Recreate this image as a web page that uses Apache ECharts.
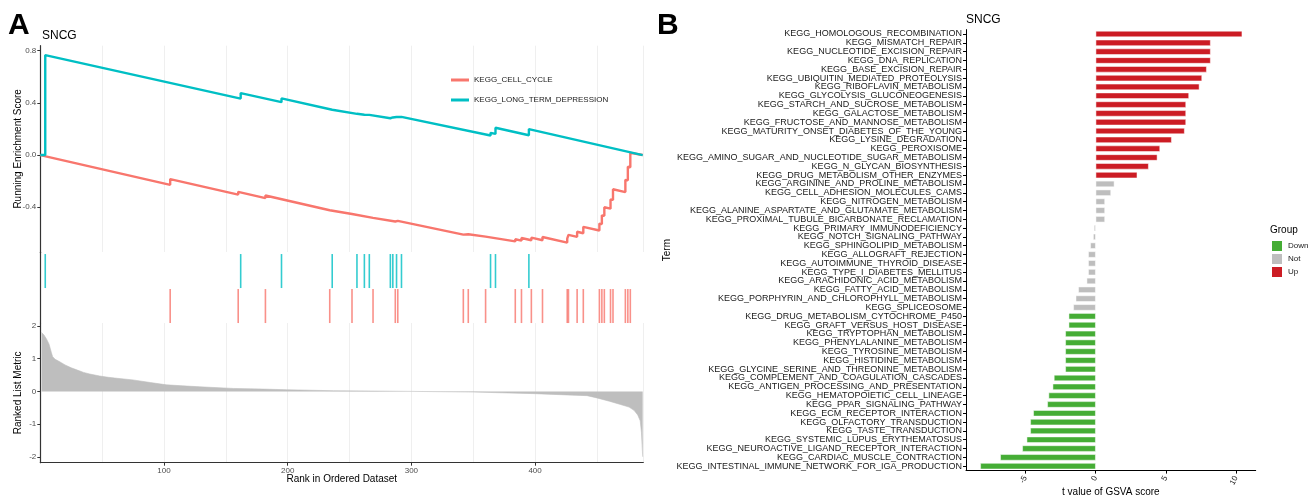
<!DOCTYPE html>
<html>
<head>
<meta charset="utf-8">
<script src="https://cdn.jsdelivr.net/npm/echarts@6/dist/echarts.min.js"></script>
<style>
  html, body { margin: 0; padding: 0; background: #fff; }
  #chart { width: 1310px; height: 500px; }
</style>
</head>
<body>
<div id="chart"></div>
<script>
// ---- panel A: GSEA data ----
const nGenes = 487
const rankTicks = [100, 200, 300, 400]
const esTicks = [-0.4, 0, 0.4, 0.8]
const metricTicks = [-2, -1, 0, 1, 2]

// KEGG_CELL_CYCLE hits, running score just before and just after each hit
const ccHits = [105, 160, 182, 234, 252, 269, 287, 289, 342, 346, 360, 384, 389, 397, 406, 426, 427, 434, 439, 452, 454, 456, 461, 463, 473, 475, 477]
const ccBefore = [-0.228, -0.303, -0.330, -0.423, -0.452, -0.481, -0.509, -0.504, -0.610, -0.607, -0.625, -0.662, -0.656, -0.653, -0.653, -0.671, -0.642, -0.627, -0.599, -0.578, -0.529, -0.466, -0.411, -0.344, -0.284, -0.194, -0.094]
const ccAfter = [-0.184, -0.282, -0.310, -0.413, -0.444, -0.470, -0.500, -0.495, -0.598, -0.595, -0.610, -0.645, -0.636, -0.633, -0.628, -0.640, -0.612, -0.588, -0.550, -0.525, -0.462, -0.400, -0.340, -0.262, -0.190, -0.090, 0.017]

// KEGG_LONG_TERM_DEPRESSION
const ltdHits = [4, 162, 195, 236, 256, 262, 266, 283, 285, 288, 292, 364, 368, 395]
const ltdBefore = [0.000, 0.433, 0.405, 0.347, 0.316, 0.309, 0.308, 0.282, 0.288, 0.292, 0.292, 0.150, 0.162, 0.152]
const ltdAfter = [0.766, 0.475, 0.434, 0.358, 0.322, 0.316, 0.318, 0.292, 0.298, 0.300, 0.302, 0.170, 0.209, 0.199]

// ranked list metric, sampled along the curve
const metricRank = [1, 3, 5, 7, 8, 9, 10, 12, 15, 20, 25, 30, 35, 40, 48, 55, 62, 75, 89, 102, 115, 129, 156, 180, 199, 237, 270, 300, 350, 400, 420, 442, 450, 460, 469, 476, 480, 483, 485, 486, 487]
const metricValue = [1.80, 1.72, 1.60, 1.45, 1.32, 1.18, 1.06, 0.98, 0.92, 0.81, 0.72, 0.65, 0.58, 0.53, 0.47, 0.43, 0.40, 0.35, 0.27, 0.20, 0.17, 0.14, 0.09, 0.07, 0.05, 0.02, 0.01, 0.0, -0.02, -0.07, -0.10, -0.13, -0.20, -0.30, -0.40, -0.48, -0.58, -0.72, -0.90, -1.25, -2.0]

// ---- panel B: GSVA t values ----
const terms = [
  'KEGG_HOMOLOGOUS_RECOMBINATION', 'KEGG_MISMATCH_REPAIR', 'KEGG_NUCLEOTIDE_EXCISION_REPAIR',
  'KEGG_DNA_REPLICATION', 'KEGG_BASE_EXCISION_REPAIR', 'KEGG_UBIQUITIN_MEDIATED_PROTEOLYSIS',
  'KEGG_RIBOFLAVIN_METABOLISM', 'KEGG_GLYCOLYSIS_GLUCONEOGENESIS', 'KEGG_STARCH_AND_SUCROSE_METABOLISM',
  'KEGG_GALACTOSE_METABOLISM', 'KEGG_FRUCTOSE_AND_MANNOSE_METABOLISM', 'KEGG_MATURITY_ONSET_DIABETES_OF_THE_YOUNG',
  'KEGG_LYSINE_DEGRADATION', 'KEGG_PEROXISOME', 'KEGG_AMINO_SUGAR_AND_NUCLEOTIDE_SUGAR_METABOLISM',
  'KEGG_N_GLYCAN_BIOSYNTHESIS', 'KEGG_DRUG_METABOLISM_OTHER_ENZYMES', 'KEGG_ARGININE_AND_PROLINE_METABOLISM',
  'KEGG_CELL_ADHESION_MOLECULES_CAMS', 'KEGG_NITROGEN_METABOLISM', 'KEGG_ALANINE_ASPARTATE_AND_GLUTAMATE_METABOLISM',
  'KEGG_PROXIMAL_TUBULE_BICARBONATE_RECLAMATION', 'KEGG_PRIMARY_IMMUNODEFICIENCY', 'KEGG_NOTCH_SIGNALING_PATHWAY',
  'KEGG_SPHINGOLIPID_METABOLISM', 'KEGG_ALLOGRAFT_REJECTION', 'KEGG_AUTOIMMUNE_THYROID_DISEASE',
  'KEGG_TYPE_I_DIABETES_MELLITUS', 'KEGG_ARACHIDONIC_ACID_METABOLISM', 'KEGG_FATTY_ACID_METABOLISM',
  'KEGG_PORPHYRIN_AND_CHLOROPHYLL_METABOLISM', 'KEGG_SPLICEOSOME', 'KEGG_DRUG_METABOLISM_CYTOCHROME_P450',
  'KEGG_GRAFT_VERSUS_HOST_DISEASE', 'KEGG_TRYPTOPHAN_METABOLISM', 'KEGG_PHENYLALANINE_METABOLISM',
  'KEGG_TYROSINE_METABOLISM', 'KEGG_HISTIDINE_METABOLISM', 'KEGG_GLYCINE_SERINE_AND_THREONINE_METABOLISM',
  'KEGG_COMPLEMENT_AND_COAGULATION_CASCADES', 'KEGG_ANTIGEN_PROCESSING_AND_PRESENTATION', 'KEGG_HEMATOPOIETIC_CELL_LINEAGE',
  'KEGG_PPAR_SIGNALING_PATHWAY', 'KEGG_ECM_RECEPTOR_INTERACTION', 'KEGG_OLFACTORY_TRANSDUCTION',
  'KEGG_TASTE_TRANSDUCTION', 'KEGG_SYSTEMIC_LUPUS_ERYTHEMATOSUS', 'KEGG_NEUROACTIVE_LIGAND_RECEPTOR_INTERACTION',
  'KEGG_CARDIAC_MUSCLE_CONTRACTION', 'KEGG_INTESTINAL_IMMUNE_NETWORK_FOR_IGA_PRODUCTION'
]
const tValues = [
  10.43, 8.18, 8.18, 8.18, 7.90, 7.57, 7.38, 6.64, 6.43, 6.43,
  6.43, 6.33, 5.41, 4.58, 4.39, 3.77, 2.96, 1.33, 1.09, 0.66,
  0.66, 0.66, -0.12, -0.18, -0.38, -0.53, -0.53, -0.53, -0.64, -1.24,
  -1.42, -1.59, -1.92, -1.92, -2.16, -2.16, -2.16, -2.16, -2.16, -2.97,
  -3.06, -3.35, -3.44, -4.44, -4.65, -4.65, -4.91, -5.22, -6.79, -8.21
]
const groups = [
  'Up', 'Up', 'Up', 'Up', 'Up', 'Up', 'Up', 'Up', 'Up', 'Up',
  'Up', 'Up', 'Up', 'Up', 'Up', 'Up', 'Up', 'Not', 'Not', 'Not',
  'Not', 'Not', 'Not', 'Not', 'Not', 'Not', 'Not', 'Not', 'Not', 'Not',
  'Not', 'Not', 'Down', 'Down', 'Down', 'Down', 'Down', 'Down', 'Down', 'Down',
  'Down', 'Down', 'Down', 'Down', 'Down', 'Down', 'Down', 'Down', 'Down', 'Down'
]
const groupNames = ['Down', 'Not', 'Up']
const tTicks = [-5, 0, 5, 10]

const groupColors = { Down: '#45ad35', Not: '#bebebe', Up: '#cc1c24' }
const FONT = 'Liberation Sans, Arial, sans-serif'

// running-score path: start at 0, vertical jump at each hit, back to 0 at the end
const esPath = (hits, before, after) => {
  const pts = [[0, 0]]
  hits.forEach((r, i) => {
    pts.push([r, before[i]])
    pts.push([r, after[i]])
  })
  pts.push([nGenes, 0])
  return pts
}

const chart = echarts.init(document.getElementById('chart'))

const hidden = { axisLine: { show: false }, axisTick: { show: false }, axisLabel: { show: false }, splitLine: { show: false } }
// extra top axes only used to draw the vertical grid lines every 50 ranks
const gridAxis = (gi) => ({
  gridIndex: gi, type: 'value', position: 'top', min: 0, max: 487.5, interval: 50,
  axisLine: { show: false }, axisTick: { show: false }, axisLabel: { show: false },
  splitLine: { show: true, lineStyle: { color: '#ebebeb', width: 0.8 } }
})
const axisText = { color: '#4d4d4d', fontSize: 8, fontFamily: FONT }
const nameText = { color: '#000', fontSize: 10, fontFamily: FONT }
const darkLine = { show: true, onZero: false, lineStyle: { color: '#333', width: 1.2 } }

const option = {
  animation: false,
  backgroundColor: '#fff',
  title: [
    { text: 'A', left: 8, top: 11, padding: 0, textStyle: { fontSize: 30, fontWeight: 'bold', color: '#000', fontFamily: FONT } },
    { text: 'B', left: 657, top: 11, padding: 0, textStyle: { fontSize: 30, fontWeight: 'bold', color: '#000', fontFamily: FONT } },
    { text: 'SNCG', left: 42, top: 30, padding: 0, textStyle: { fontSize: 12, fontWeight: 'normal', color: '#000', fontFamily: FONT } },
    { text: 'SNCG', left: 966, top: 14, padding: 0, textStyle: { fontSize: 12, fontWeight: 'normal', color: '#000', fontFamily: FONT } },
    { text: 'Group', left: 1270, top: 225, padding: 0, textStyle: { fontSize: 10, fontWeight: 'normal', color: '#000', fontFamily: FONT } }
  ],
  legend: [
    {
      data: ['KEGG_CELL_CYCLE', 'KEGG_LONG_TERM_DEPRESSION'],
      orient: 'vertical', left: 451, top: 76, padding: 0, icon: 'rect', itemWidth: 18, itemHeight: 3, itemGap: 12,
      textStyle: { fontSize: 8, color: '#1a1a1a', fontFamily: FONT }
    },
    {
      data: groupNames,
      orient: 'vertical', left: 1270, top: 239, padding: 0, icon: 'rect', itemWidth: 12, itemHeight: 12, itemGap: -1,
      textStyle: { fontSize: 8, lineHeight: 10, color: '#1a1a1a', fontFamily: FONT }
    }
  ],
  grid: [
    { left: 40.3, width: 603, top: 45.7, height: 206.3, outerBoundsMode: 'none' },
    { left: 40.3, width: 603, top: 252.3, height: 70.7, outerBoundsMode: 'none' },
    { left: 40.3, width: 603, top: 323, height: 139.7, outerBoundsMode: 'none' },
    { left: 966, width: 289.7, top: 29.6, height: 441, outerBoundsMode: 'none' }
  ],
  xAxis: [
    { gridIndex: 0, type: 'value', min: 0, max: 487.5, ...hidden },
    { gridIndex: 1, type: 'value', min: 0, max: 487.5, ...hidden },
    {
      gridIndex: 2, type: 'value', min: 0, max: 487.5,
      axisLine: darkLine,
      axisTick: { show: true, length: 3, customValues: rankTicks, lineStyle: { color: '#333' } },
      axisLabel: { customValues: rankTicks, margin: 4, ...axisText },
      splitLine: { show: false },
      name: 'Rank in Ordered Dataset', nameLocation: 'middle', nameGap: 12, nameMoveOverlap: false, nameTextStyle: nameText
    },
    {
      gridIndex: 3, type: 'value', min: -9.23, max: 11.39,
      axisLine: { show: true, onZero: false, lineStyle: { color: '#000', width: 1 } },
      axisTick: { show: true, length: 3, customValues: tTicks, lineStyle: { color: '#000' } },
      axisLabel: { customValues: tTicks, rotate: 60, margin: 6, fontSize: 8, color: '#1a1a1a', fontFamily: FONT },
      splitLine: { show: false },
      name: 't value of GSVA score', nameLocation: 'middle', nameGap: 17, nameMoveOverlap: false, nameTextStyle: nameText
    },
    gridAxis(0),
    gridAxis(2)
  ],
  yAxis: [
    {
      gridIndex: 0, type: 'value', min: -0.743, max: 0.838,
      axisLine: darkLine,
      axisTick: { show: true, length: 3, customValues: esTicks, lineStyle: { color: '#333' } },
      axisLabel: { customValues: esTicks, margin: 4, formatter: v => v.toFixed(1), ...axisText },
      splitLine: { show: false },
      name: 'Running Enrichment Score', nameLocation: 'middle', nameGap: 17.5, nameMoveOverlap: false, nameTextStyle: nameText
    },
    {
      gridIndex: 1, type: 'value', min: 0, max: 2,
      axisLine: darkLine,
      axisTick: { show: false }, axisLabel: { show: false }, splitLine: { show: false }
    },
    {
      gridIndex: 2, type: 'value', min: -2.18, max: 2.09,
      axisLine: darkLine,
      axisTick: { show: true, length: 3, customValues: metricTicks, lineStyle: { color: '#333' } },
      axisLabel: { customValues: metricTicks, margin: 4, ...axisText },
      splitLine: { show: false },
      name: 'Ranked List Metric', nameLocation: 'middle', nameGap: 17.5, nameMoveOverlap: false, nameTextStyle: nameText
    },
    {
      gridIndex: 3, type: 'category', data: terms, inverse: true,
      axisLine: { show: true, onZero: false, lineStyle: { color: '#000', width: 1 } },
      axisTick: { show: true, length: 3, alignWithLabel: true, lineStyle: { color: '#000' } },
      axisLabel: { fontSize: 9, color: '#1a1a1a', margin: 4, fontFamily: FONT, interval: 0 },
      name: 'Term', nameLocation: 'middle', nameGap: 294, nameMoveOverlap: false, nameTextStyle: nameText
    }
  ],
  series: [
    {
      name: 'KEGG_CELL_CYCLE', type: 'line', xAxisIndex: 0, yAxisIndex: 0,
      data: esPath(ccHits, ccBefore, ccAfter), showSymbol: false, color: '#f8766d',
      lineStyle: { width: 2.4, color: '#f8766d' }, z: 3
    },
    {
      name: 'KEGG_LONG_TERM_DEPRESSION', type: 'line', xAxisIndex: 0, yAxisIndex: 0,
      data: esPath(ltdHits, ltdBefore, ltdAfter), showSymbol: false, color: '#00bfc4',
      lineStyle: { width: 2.4, color: '#00bfc4' }, z: 4
    },
    {
      type: 'scatter', xAxisIndex: 1, yAxisIndex: 1, symbol: 'rect', symbolSize: [1.6, 34],
      data: ltdHits.map(r => [r, 1.47]), itemStyle: { color: '#00bfc4' }, silent: true
    },
    {
      type: 'scatter', xAxisIndex: 1, yAxisIndex: 1, symbol: 'rect', symbolSize: [1.6, 34],
      data: ccHits.map(r => [r, 0.48]), itemStyle: { color: '#f8766d' }, silent: true
    },
    {
      type: 'line', xAxisIndex: 2, yAxisIndex: 2, showSymbol: false,
      data: metricRank.map((r, i) => [r, metricValue[i]]),
      lineStyle: { width: 0.6, color: '#bebebe' }, areaStyle: { color: '#bebebe', opacity: 1, origin: 0 }, z: 3
    },
    ...groupNames.map(g => ({
      name: g, type: 'bar', xAxisIndex: 3, yAxisIndex: 3, stack: 'grp', barWidth: '70%',
      color: groupColors[g],
      itemStyle: { color: groupColors[g], borderColor: '#fff', borderWidth: 0.5 },
      data: tValues.map((v, i) => groups[i] === g ? v : '-')
    }))
  ]
}

chart.setOption(option)
</script>
</body>
</html>
